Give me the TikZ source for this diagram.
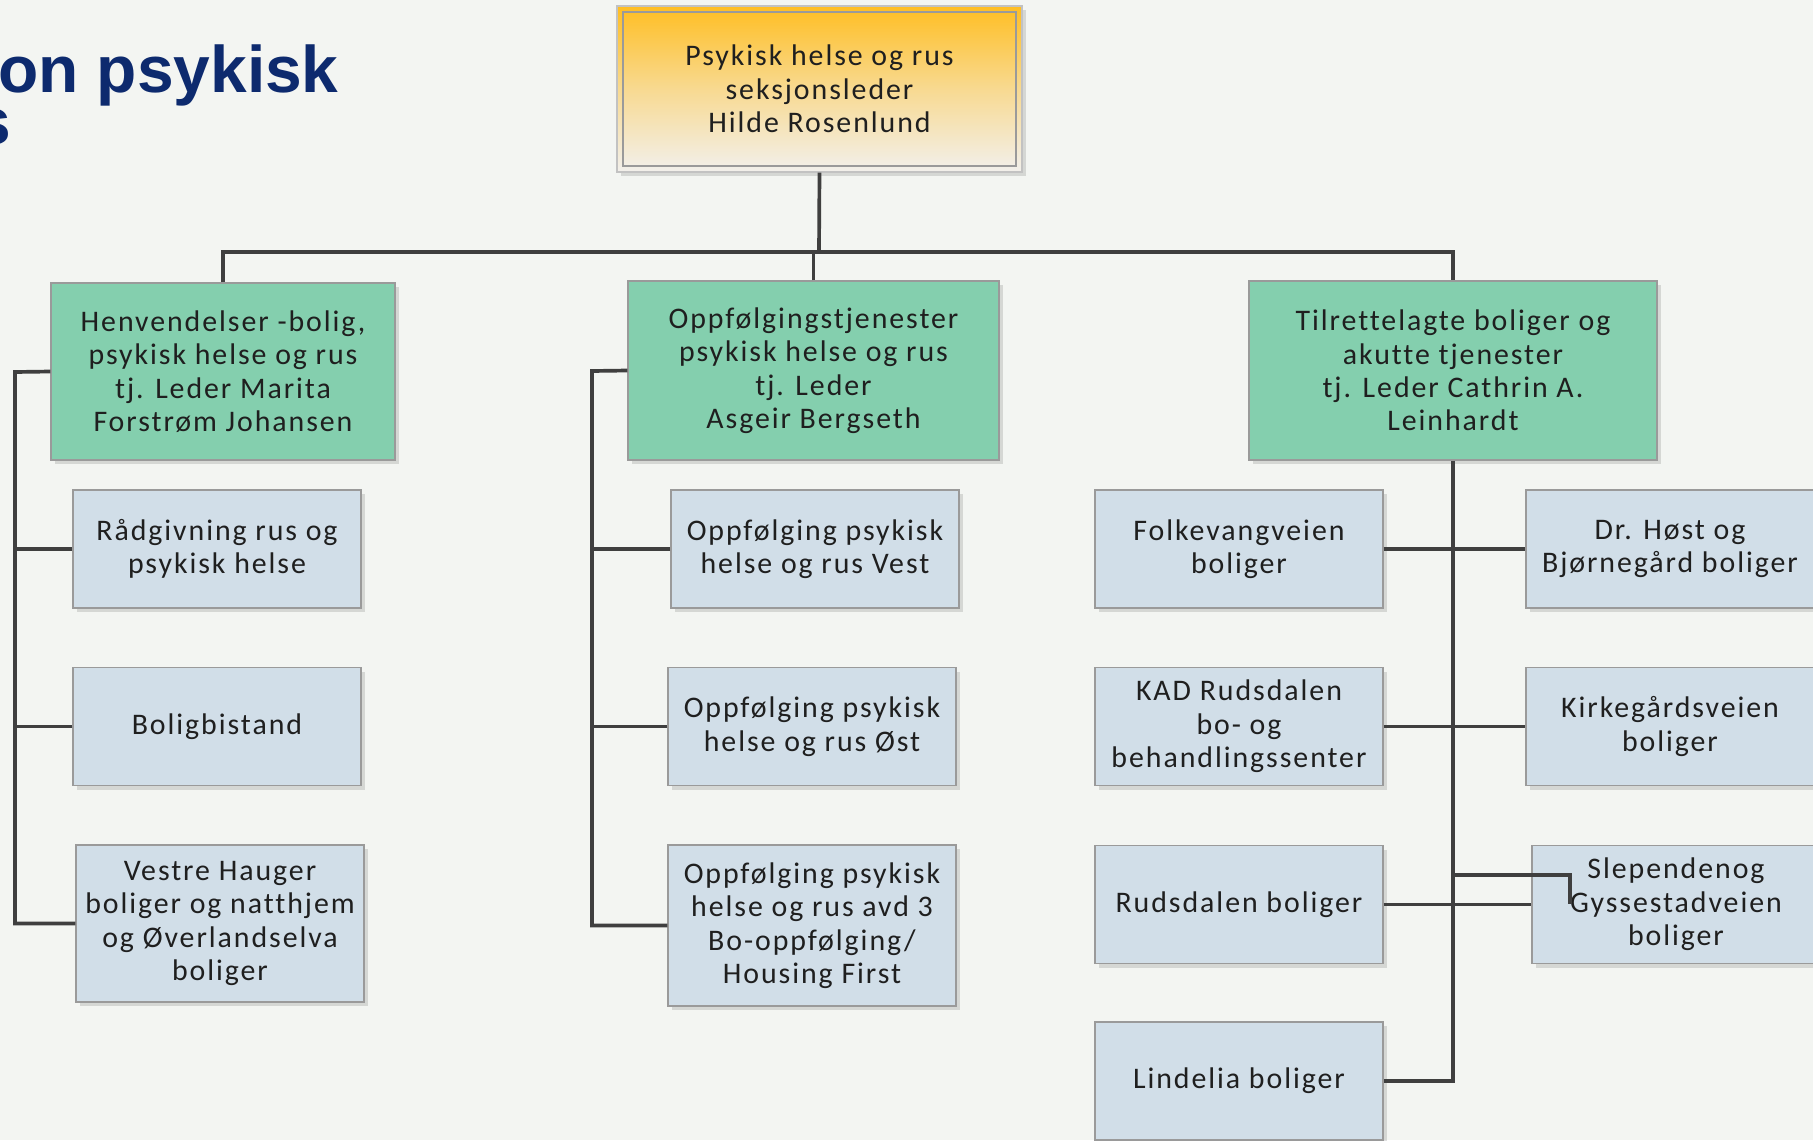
\documentclass[tikz,border=0pt]{standalone}
\usepackage{fontspec}
\setmainfont{Carlito}[LetterSpace=6.5, Ligatures=NoCommon]
\newfontfamily\titlefont{Liberation Sans}
\usetikzlibrary{positioning,calc,shadows}
\definecolor{OrgBack}{HTML}{F3F5F2}
\definecolor{OrgTop}{HTML}{FFBE22}
\definecolor{OrgTopLow}{HTML}{F2F0EC}
\definecolor{OrgGreen}{HTML}{84CFAE}
\definecolor{OrgBlue}{HTML}{D1DEE8}
\definecolor{OrgFrame}{HTML}{9A9A9A}
\definecolor{OrgLine}{HTML}{3F3F3F}
\definecolor{OrgNavy}{HTML}{0D2A6E}

\tikzset{
  unit/.style={draw=OrgFrame, line width=0.8pt, align=center, inner sep=2pt,
    font=\fontsize{17}{19}\selectfont, text=black!88,
    drop shadow={shadow xshift=2.5pt, shadow yshift=-2.5pt, opacity=0.12, fill=black}},
  leader/.style={unit, fill=OrgGreen},
  team/.style={unit, fill=OrgBlue, minimum width=5.76cm, minimum height=2.36cm},
  link/.style={draw=OrgLine, line width=2.1pt},
  heading/.style={anchor=base east, inner sep=0pt, text=OrgNavy,
    font=\titlefont\bfseries\fontsize{37.5}{37.5}\selectfont}
}

\begin{document}
\begin{tikzpicture}[x=0.02cm, y=-0.02cm]
        % Background
        \fill[OrgBack] (0,0) rectangle (1813,1140);
        \useasboundingbox (0,0) rectangle (1813,1140);

        % Heading (cut by the page edge)
        \begin{scope}
          \clip (0,0) rectangle (1813,1140);
          \node[heading] (head1) at (339,92) {on psykisk};
          \node[heading] (head2) at (11,144) {s};
        \end{scope}

        % Section leader
        \node[unit, draw=OrgFrame!60, top color=OrgTop, bottom color=OrgTopLow, middle color=OrgTop!45!OrgTopLow,
              minimum width=8.1cm, minimum height=3.32cm] (top) at (819.5,89)
              {Psykisk helse og rus\\seksjonsleder\\Hilde Rosenlund};
        \draw[OrgFrame, line width=0.8pt] ([shift={(0.13cm,-0.13cm)}]top.north west) rectangle ([shift={(-0.13cm,0.13cm)}]top.south east);

        % Service leaders
        \node[leader, minimum width=6.88cm, minimum height=3.54cm] (hen) at (223,371.5)
              {Henvendelser -bolig,\\psykisk helse og rus\\tj. Leder Marita\\Forstrøm Johansen};
        \node[leader, minimum width=7.42cm, minimum height=3.58cm] (opp) at (813.5,370.5)
              {Oppfølgingstjenester\\psykisk helse og rus\\tj. Leder\\Asgeir Bergseth};
        \node[leader, minimum width=8.16cm, minimum height=3.58cm] (til) at (1453,370.5)
              {Tilrettelagte boliger og\\akutte tjenester\\tj. Leder Cathrin A.\\Leinhardt};

        % Left column
        \node[team] (raad) at (217,549) {Rådgivning rus og\\psykisk helse};
        \node[team] (bist) at (217,726.5) {Boligbistand};
        \node[team, minimum height=3.14cm] (vest) at (220,923.5) {Vestre Hauger\\boliger og natthjem\\og Øverlandselva\\boliger};

        % Middle column
        \node[team] (vestoppf) at (815,549) {Oppfølging psykisk\\helse og rus Vest};
        \node[team] (ostoppf) at (812,726.5) {Oppfølging psykisk\\helse og rus Øst};
        \node[team, minimum height=3.22cm] (avd) at (812,925.5) {Oppfølging psykisk\\helse og rus avd 3\\Bo-oppfølging/\\Housing First};

        % Right columns
        \node[team] (folk) at (1239,549) {Folkevangveien\\boliger};
        \node[team] (kad) at (1239,726.5) {KAD Rudsdalen\\bo- og\\behandlingssenter};
        \node[team] (ruds) at (1239,904.5) {Rudsdalen boliger};
        \node[team] (lind) at (1239,1081) {Lindelia boliger};
        \node[team] (host) at (1670,549) {Dr. Høst og\\Bjørnegård boliger};
        \node[team] (kirk) at (1670,726.5) {Kirkegårdsveien\\boliger};
        \node[team] (slep) at (1676,904.5) {Slependenog\\Gyssestadveien\\boliger};

        % Lines
        \coordinate (bus) at (819,252);
        \coordinate (lspine) at (15,372);
        \coordinate (mspine) at (592,371);
        \coordinate (jog) at (1453,875);
        \coordinate (jogend) at (1570,904);
        \draw[link] (top.south) -- (bus);
        \draw[link] (hen.north) |- (bus) -| (til.north);
        \draw[link] (opp.north) -- (opp.north |- bus);

        \draw[link] (hen.west) -- (lspine) |- (vest.west);
        \draw[link] (raad.west) -- (raad.west -| lspine);
        \draw[link] (bist.west) -- (bist.west -| lspine);

        \draw[link] (opp.west) -- (mspine) |- (avd.west);
        \draw[link] (vestoppf.west) -- (vestoppf.west -| mspine);
        \draw[link] (ostoppf.west) -- (ostoppf.west -| mspine);

        \draw[link] (til.south) |- (lind.east);
        \draw[link] (folk.east) -- (host.west);
        \draw[link] (kad.east) -- (kirk.west);
        \draw[link] (ruds.east) -- (slep.west);
        \draw[link] (jog) -| (jogend);
      \end{tikzpicture}
\end{document}
